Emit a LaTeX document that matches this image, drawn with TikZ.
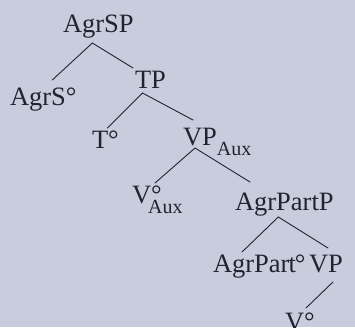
\documentclass[tikz,border=0pt]{standalone}
\usepackage{fontspec}
\setmainfont{Liberation Serif}
\usetikzlibrary{positioning}
\definecolor{paper}{RGB}{200,205,222}
\definecolor{ink}{RGB}{34,34,50}
\newcommand\lowtag[1]{\raisebox{-10pt}{\fontsize{20}{20}\selectfont #1}}
\tikzset{
every node/.style = {font = \fontsize{26.5}{30}\selectfont, text = ink},
label/.style = {anchor = base west, inner sep = 0pt, outer sep = 0pt,
   text height = 18pt, text depth = 6pt},
branch/.style = {draw = ink, line width = 0.9pt, line cap = round}
}
\begin{document}
\begin{tikzpicture}[x = 1pt, y = -1pt]
\fill [paper] (0,0) rectangle (355,327);
\useasboundingbox (0,0) rectangle (355,327);

%% Labels of the tree
\node [label] (AgrSP) at (63,32) {AgrSP};
\node [label] (AgrS) at (10,105) {AgrS°};
\node [label] (TP) at (135,88) {TP};
\node [label] (T) at (92,148) {T°};
\node [label] (VPaux) at (183,145) {VP\lowtag{Aux}};
\node [label] (Vaux) at (132,203) {V\rlap{°}\kern-3pt\lowtag{Aux}};
\node [label] (AgrPartP) at (235,210) {AgrPartP};
\node [label] (AgrPart) at (213,272) {AgrPar\kern-1pt t\kern-1pt°};
\node [label] (VP) at (309,272) {VP};
\node [label] (V) at (285,330) {V°};

%% Branches
\draw [branch] ([shift={(-6,5)}]AgrSP.south) -- ([shift={(9,-7)}]AgrS.north);
\draw [branch] ([shift={(-6,5)}]AgrSP.south) -- ([shift={(-2,-2)}]TP.north west);

\draw [branch] ([shift={(-8,-1)}]TP.south) -- ([shift={(2,-2)}]T.north);
\draw [branch] ([shift={(-8,-1)}]TP.south) -- ([shift={(10,-7)}]VPaux.north west);

\draw [branch] ([shift={(12,-3)}]VPaux.south west) -- ([shift={(23,-2)}]Vaux.north west);
\draw [branch] ([shift={(12,-3)}]VPaux.south west) -- ([shift={(15,-10)}]AgrPartP.north west);

\draw [branch] ([shift={(-6,1)}]AgrPartP.south) -- ([shift={(29,-2)}]AgrPart.north west);
\draw [branch] ([shift={(-6,1)}]AgrPartP.south) -- ([shift={(19,-6)}]VP.north west);

\draw [branch] ([shift={(7,4)}]VP.south) -- ([shift={(21,-4)}]V.north west);

\end{tikzpicture}
\end{document}
